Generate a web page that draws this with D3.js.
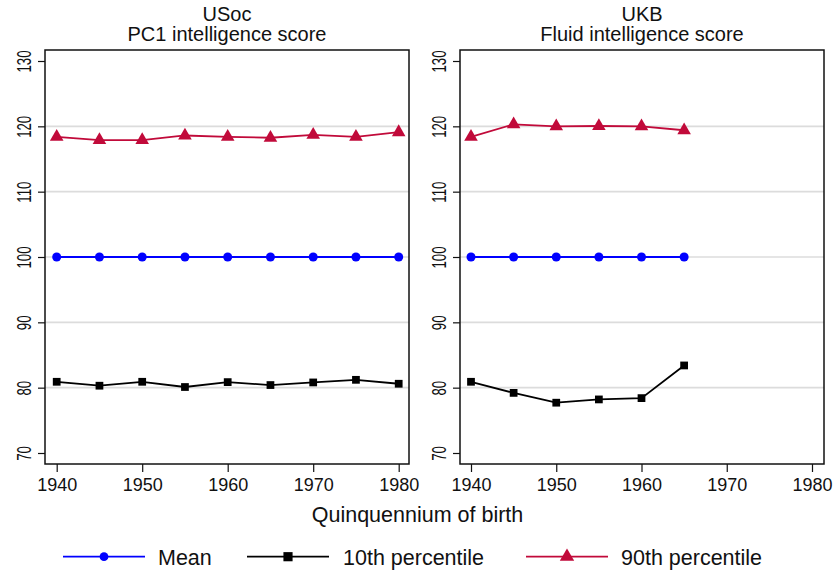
<!DOCTYPE html>
<html><head><meta charset="utf-8">
<script src="https://cdn.jsdelivr.net/npm/d3@7"></script>
<style>
body{margin:0;background:#fff;}
text{font-family:"Liberation Sans",Arial,Helvetica,sans-serif;fill:#111;}
</style></head>
<body>
<svg id="chart" width="836" height="571"></svg>
<script>
const years = [1940,1945,1950,1955,1960,1965,1970,1975,1980];
const yearsUKB = [1940,1945,1950,1955,1960,1965];
const usocMean = [100,100,100,100,100,100,100,100,100];
const usocP10 = [80.9,80.3,80.9,80.1,80.85,80.4,80.8,81.2,80.6];
const usocP90 = [118.4,117.9,117.9,118.6,118.4,118.25,118.7,118.4,119.1];
const ukbMean = [100,100,100,100,100,100];
const ukbP10 = [80.9,79.2,77.7,78.2,78.4,83.4];
const ukbP90 = [118.4,120.3,120.0,120.05,120.0,119.4];
const xTicks = [1940,1950,1960,1970,1980];
const yTicks = [70,80,90,100,110,120,130];
const panelTitles = [["USoc","PC1 intelligence score"],["UKB","Fluid intelligence score"]];
const seriesNames = ["Mean","10th percentile","90th percentile"];
const seriesColors = ["#0000ff","#000000","#c10a3a"];
const seriesShapes = [d3.symbolCircle, d3.symbolSquare, d3.symbolTriangle];
const shapeSizes = [64, 60, 80];
const legendSizes = [60, 84, 90];

(function(){
const svg = d3.select("#chart");
const panels = [
  {frame:[45,409], xr:[56.7,398.7], titles:panelTitles[0], x:years, data:[usocMean,usocP10,usocP90]},
  {frame:[460,824], xr:[471,812], titles:panelTitles[1], x:yearsUKB, data:[ukbMean,ukbP10,ukbP90]}
];
const fTop = 50, fBottom = 464;
const y = d3.scaleLinear().domain([70,130]).range([453,61]);

panels.forEach(p => {
  const g = svg.append("g");
  const x = d3.scaleLinear().domain([1940,1980]).range(p.xr);
  g.selectAll(".grid").data(yTicks.filter(t=>t>=80 && t<=120)).enter().append("line")
    .attr("x1",p.frame[0]).attr("x2",p.frame[1])
    .attr("y1",d=>y(d)).attr("y2",d=>y(d))
    .attr("stroke","#dcdcdc").attr("stroke-width",1.6);
  p.data.forEach((vals,si) => {
    const pts = p.x.map((xv,i)=>[xv,vals[i]]);
    g.append("path").datum(pts)
      .attr("d", d3.line().x(d=>x(d[0])).y(d=>y(d[1])))
      .attr("fill","none").attr("stroke",seriesColors[si]).attr("stroke-width",1.8);
    g.selectAll(null).data(pts).enter().append("path")
      .attr("d", d3.symbol().type(seriesShapes[si]).size(shapeSizes[si]))
      .attr("transform", d=>`translate(${x(d[0])},${y(d[1])})`)
      .attr("fill",seriesColors[si]);
  });
  g.append("rect").attr("x",p.frame[0]).attr("y",fTop)
    .attr("width",p.frame[1]-p.frame[0]).attr("height",fBottom-fTop)
    .attr("fill","none").attr("stroke","#111").attr("stroke-width",1.5);
  const xa = g.append("g").attr("transform",`translate(0,${fBottom})`)
    .call(d3.axisBottom(x).tickValues(xTicks).tickFormat(d3.format("d")).tickSize(8).tickPadding(6));
  xa.select(".domain").remove();
  xa.selectAll("line").attr("stroke","#111").attr("stroke-width",1.2);
  xa.selectAll("text").attr("font-size","18px").attr("fill","#111");
  const ya = g.append("g").attr("transform",`translate(${p.frame[0]},0)`)
    .call(d3.axisLeft(y).tickValues(yTicks).tickSize(7).tickFormat(d3.format("d")));
  ya.select(".domain").remove();
  ya.selectAll("line").attr("stroke","#111").attr("stroke-width",1.2);
  ya.selectAll("text").remove();
  ya.selectAll(".tick").append("text")
    .attr("transform","translate(-14,0) rotate(-90) scale(0.66,1)")
    .attr("text-anchor","middle")
    .attr("font-size","20px").attr("fill","#111")
    .text(d=>d);
  const cx = (p.frame[0]+p.frame[1])/2;
  g.append("text").attr("x",cx).attr("y",20.5).attr("text-anchor","middle")
    .attr("font-size","20px").text(p.titles[0]);
  g.append("text").attr("x",cx).attr("y",40.5).attr("text-anchor","middle")
    .attr("font-size","20px").text(p.titles[1]);
});

svg.append("text").attr("x",417.5).attr("y",521.5).attr("text-anchor","middle")
  .attr("font-size","21.5px").text("Quinquennium of birth");

const legX = [[63,145,158],[247,329,343],[526,608,621]];
const ly = 556.7;
seriesNames.forEach((name,i)=>{
  const [a,b,t] = legX[i];
  svg.append("line").attr("x1",a).attr("x2",b).attr("y1",ly).attr("y2",ly)
    .attr("stroke",seriesColors[i]).attr("stroke-width",1.8);
  svg.append("path").attr("d",d3.symbol().type(seriesShapes[i]).size(legendSizes[i]))
    .attr("transform",`translate(${(a+b)/2},${ly})`).attr("fill",seriesColors[i]);
  svg.append("text").attr("x",t).attr("y",565).attr("font-size","21.5px").text(name);
});
})();
</script>
</body></html>
